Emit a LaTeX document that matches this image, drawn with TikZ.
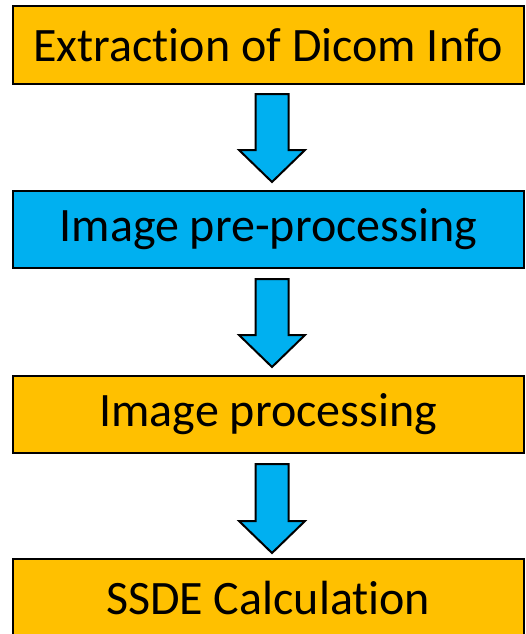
\documentclass[tikz,border=0pt]{standalone}
\usepackage{fontspec}
\setmainfont[Ligatures=NoCommon]{Carlito}
\usetikzlibrary{calc}
\definecolor{stepgold}{HTML}{FFC000}
\definecolor{stepblue}{HTML}{00B0F0}
\tikzset{
  stagebox/.style={draw=black, line width=2pt, minimum width=511.5pt,
    inner sep=0pt, font=\fontsize{48}{58}\selectfont, text=black},
  goldbox/.style={stagebox, fill=stepgold, minimum height=78pt},
  bluebox/.style={stagebox, fill=stepblue, minimum height=77pt},
  flowarrow/.style={draw=black, fill=stepblue, line width=2pt, line join=miter},
}
% block arrow from #1 (top of shaft) to #2 (tip)
\newcommand\blockdown[2]{%
  \draw[flowarrow] ($(#1)+(-16.5,0)$) -- ($(#2)+(-16.5,-32)$)
    -- ($(#2)+(-33,-32)$) -- (#2) -- ($(#2)+(33,-32)$)
    -- ($(#2)+(16.5,-32)$) -- ($(#1)+(16.5,0)$) -- cycle;}
\begin{document}
\begin{tikzpicture}[x=1pt, y=-1pt]
  \useasboundingbox (0,0) rectangle (526,634);
  \begin{scope}
    \clip (0,0) rectangle (526,634);
    \node[goldbox] (b1) at (268.25,45) {Extraction of Dicom Info};
    \node[bluebox] (b2) at (268.25,229.5) {Image pre-processing};
    \node[goldbox, minimum height=77pt] (b3) at (268.25,414.5) {Image processing};
    \node[goldbox] (b4) at (268.25,598) {SSDE Calculation};

    \coordinate (s1) at ($(b1.south)+(3.75,9)$);
    \coordinate (e1) at ($(b2.north)+(3.75,-8)$);
    \coordinate (s2) at ($(b2.south)+(3.75,10)$);
    \coordinate (e2) at ($(b3.north)+(3.75,-8)$);
    \coordinate (s3) at ($(b3.south)+(3.75,10)$);
    \coordinate (e3) at ($(b4.north)+(3.75,-5)$);
    \blockdown{s1}{e1}
    \blockdown{s2}{e2}
    \blockdown{s3}{e3}
  \end{scope}
\end{tikzpicture}
\end{document}
